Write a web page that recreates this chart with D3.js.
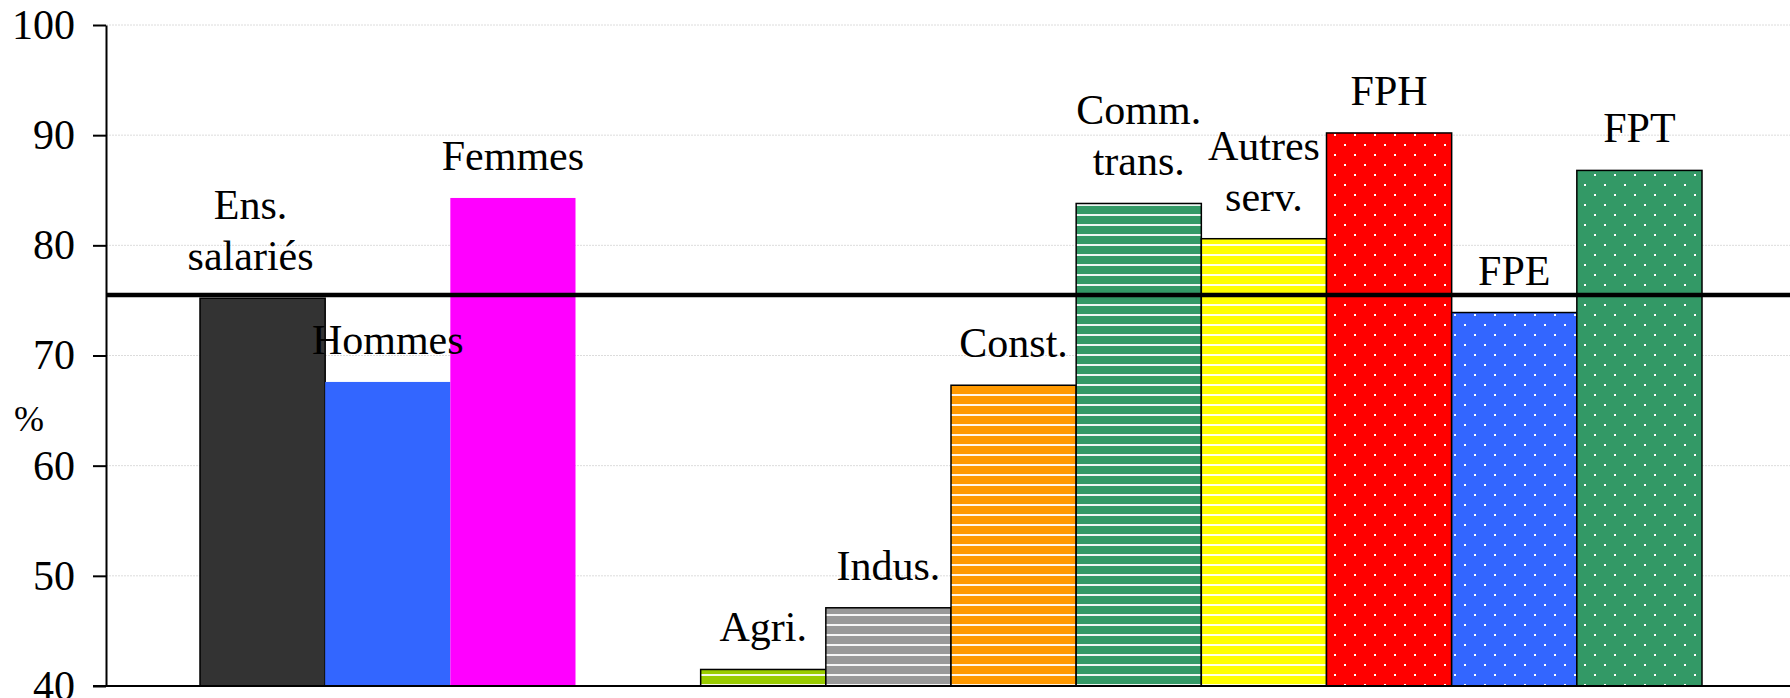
<!DOCTYPE html>
<html>
<head>
<meta charset="utf-8">
<script src="https://cdn.jsdelivr.net/npm/d3@7"></script>
<style>
  body { margin: 0; background: #fff; }
  svg { display: block; font-family: "Liberation Serif", "Times New Roman", serif; }
</style>
</head>
<body>
<svg id="chart" width="1790" height="698"></svg>
<script>
// categories, a blank slot separates the two groups
const categories = ['Ens. salariés', 'Hommes', 'Femmes', '', 'Agri.', 'Indus.', 'Const.', 'Comm. trans.', 'Autres serv.', 'FPH', 'FPE', 'FPT']
const labelLines = [['Ens.', 'salariés'], ['Hommes'], ['Femmes'], [], ['Agri.'], ['Indus.'], ['Const.'], ['Comm.', 'trans.'], ['Autres', 'serv.'], ['FPH'], ['FPE'], ['FPT']]
const values = [75.2, 67.6, 84.3, null, 41.5, 47.1, 67.3, 83.8, 80.6, 90.2, 73.9, 86.8]
const fills = ['#333333', '#3366ff', '#ff00ff', null, '#99cc00', '#999999', '#ff9900', '#339966', '#ffff00', '#ff0000', '#3366ff', '#339966']
const kinds = ['solid', 'plain', 'plain', null, 'stripe', 'stripe', 'stripe', 'stripe', 'stripe', 'dots', 'dots', 'dots']
const average = 75.5
const yTicks = [40, 50, 60, 70, 80, 90, 100]

const svg = d3.select('#chart')
const W = 1790, H = 698
const axisX = 106

const y = d3.scaleLinear().domain([40, 100]).range([686, 25])
const x = d3.scaleBand().domain(categories).range([200, 1702]).padding(0)

// patterns
const defs = svg.append('defs')
categories.forEach((c, i) => {
    if (kinds[i] === 'stripe') {
        const p = defs.append('pattern').attr('id', 'pat' + i)
            .attr('patternUnits', 'userSpaceOnUse').attr('width', 10).attr('height', 10)
        p.append('rect').attr('width', 10).attr('height', 10).attr('fill', fills[i])
        p.append('rect').attr('y', 4).attr('width', 10).attr('height', 2).attr('fill', '#fff').attr('opacity', 0.9)
    } else if (kinds[i] === 'dots') {
        const p = defs.append('pattern').attr('id', 'pat' + i)
            .attr('patternUnits', 'userSpaceOnUse').attr('width', 20).attr('height', 20)
        p.append('rect').attr('width', 20).attr('height', 20).attr('fill', fills[i])
        p.append('rect').attr('x', 4).attr('y', 4).attr('width', 2).attr('height', 2).attr('fill', '#fff')
        p.append('rect').attr('x', 14).attr('y', 14).attr('width', 2).attr('height', 2).attr('fill', '#fff')
    }
})

// gridlines
svg.append('g').selectAll('line').data(yTicks).enter().append('line')
    .attr('x1', axisX).attr('x2', W)
    .attr('y1', d => y(d)).attr('y2', d => y(d))
    .attr('stroke', '#dcdcdc').attr('stroke-width', 1).attr('stroke-dasharray', '2,1')

// bars
const data = categories.map((c, i) => ({ c, i, v: values[i] })).filter(d => d.v != null)
svg.append('g').selectAll('rect').data(data).enter().append('rect')
    .attr('x', d => x(d.c))
    .attr('y', d => y(d.v))
    .attr('width', x.bandwidth())
    .attr('height', d => y(40) - y(d.v))
    .attr('fill', d => (kinds[d.i] === 'stripe' || kinds[d.i] === 'dots') ? 'url(#pat' + d.i + ')' : fills[d.i])
    .attr('stroke', d => kinds[d.i] === 'plain' ? 'none' : '#000')
    .attr('stroke-width', 1.5)

// labels
const lab = svg.append('g').attr('font-size', 42).attr('text-anchor', 'middle').attr('fill', '#000')
data.forEach(d => {
    const lines = labelLines[d.i]
    // the first label sits a bit left of its bar
    const dx = d.i === 0 ? -12 : 0
    lines.forEach((t, k) => {
        lab.append('text')
            .attr('x', x(d.c) + x.bandwidth() / 2 + dx)
            .attr('y', y(d.v) - 28 - (lines.length - 1 - k) * 51)
            .text(t)
    })
})

// average line
svg.append('line')
    .attr('x1', axisX).attr('x2', W)
    .attr('y1', y(average)).attr('y2', y(average))
    .attr('stroke', '#000').attr('stroke-width', 4.5)

// y axis
const yAxis = d3.axisLeft(y).tickValues(yTicks).tickSize(13).tickSizeOuter(0).tickPadding(18)
const gy = svg.append('g').attr('transform', `translate(${axisX},0)`).call(yAxis)
gy.select('.domain').attr('stroke', '#000').attr('stroke-width', 2)
gy.selectAll('.tick line').attr('stroke', '#000').attr('stroke-width', 2)
gy.selectAll('.tick text').attr('font-size', 42).attr('font-family', '"Liberation Serif", serif').attr('fill', '#000')

// x axis baseline
svg.append('line')
    .attr('x1', axisX - 13).attr('x2', W)
    .attr('y1', y(40)).attr('y2', y(40))
    .attr('stroke', '#000').attr('stroke-width', 2)

svg.append('text').attr('x', 14).attr('y', 431).attr('font-size', 36).text('%')
</script>
</body>
</html>
